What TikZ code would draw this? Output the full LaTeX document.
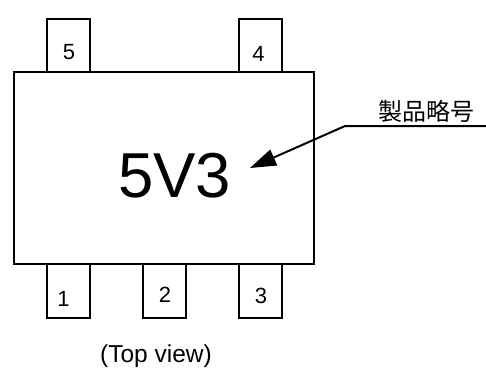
\documentclass[tikz,border=0pt]{standalone}
\usepackage{fontspec}
\setmainfont{Liberation Sans}
\newfontfamily\cjk{Noto Sans CJK JP}
\usetikzlibrary{arrows.meta}
\tikzset{
 x=1pt,y=-1pt,
 pinbox/.style={draw=black,line width=2pt,fill=white,minimum width=43.5pt,minimum height=53.5pt,inner sep=0pt,outer sep=0pt,anchor=north west},
 bodybox/.style={draw=black,line width=2pt,minimum width=300pt,minimum height=192.5pt,inner sep=0pt,outer sep=0pt,anchor=north west},
 pinlabel/.style={font=\fontsize{22}{22}\selectfont,inner sep=0pt},
 leader/.style={draw=black,line width=2pt},
}
\begin{document}
\begin{tikzpicture}
\useasboundingbox (0,0) rectangle (486,368);
\node[pinbox] (p5) at (46.5,18.5) {};
\node[pinbox] (p4) at (238.5,18.5) {};
\node[pinbox] (p1) at (46.5,264) {};
\node[pinbox] (p2) at (142.5,264) {};
\node[pinbox] (p3) at (238.5,264) {};
\node[bodybox] (body) at (14,71.5) {};
\node[pinlabel] (l5) at (69,52) {5};
\node[pinlabel] (l4) at (258.5,53.5) {4};
\node[pinlabel] (l1) at (63.5,299) {1};
\node[pinlabel] (l2) at (165,295) {2};
\node[pinlabel] (l3) at (261,295.5) {3};
\node[inner sep=0pt,font=\fontsize{63.5}{64}\selectfont] (mark) at (174.5,175.5) {5V3};
\node[inner sep=0pt,font=\fontsize{24.5}{25}\selectfont] (view) at (156,356.2) {(Top view)};
\node[inner sep=0pt,font=\cjk\fontsize{24}{24}\selectfont] (code) at (426,111) {製品略号};
\coordinate (lineend) at (486,126);
\coordinate (knee) at (345,126);
\coordinate (tip) at (250,168);
\draw[leader,-{Triangle[length=26pt,width=17pt]}] (lineend) -- (knee) -- (tip);
\end{tikzpicture}
\end{document}
